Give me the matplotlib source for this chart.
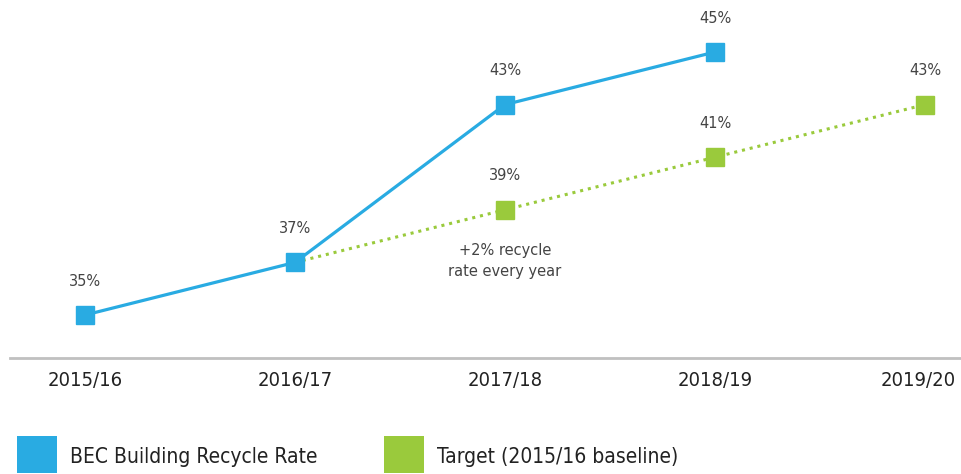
import numpy as np
import matplotlib.pyplot as plt
from matplotlib.patches import Rectangle
from matplotlib.transforms import ScaledTranslation

years = ['2015/16', '2016/17', '2017/18', '2018/19', '2019/20']
actual = [35, 37, 43, 45]
target_years = [1, 2, 3, 4]
target = [37, 39, 41, 43]
legend_labels = ['BEC Building Recycle Rate', 'Target (2015/16 baseline)']

blue = '#29ABE2'
green = '#9ACA3C'

plt.rcParams['font.family'] = ['DejaVu Sans']

W, H = 961, 474
fig = plt.figure(figsize=(W / 100, H / 100), dpi=100)
ax = fig.add_axes([10/W, 116/H, 951/W, 358/H])

x_act = np.arange(len(actual))
ax.plot(target_years, target, color=green, linestyle=(0, (1, 1.6)), linewidth=2.2,
        marker='s', markersize=13, markevery=[1, 2, 3], zorder=2)
ax.plot(x_act, actual, color=blue, linewidth=2.3, marker='s', markersize=13, zorder=3)

# value labels above the markers
for xi, v in zip(x_act, actual):
    ax.annotate(f'{v}%', (xi, v), xytext=(0, 19), textcoords='offset points',
                ha='center', va='bottom', fontsize=10.5, color='#444444')
for xi, v in zip(target_years[1:], target[1:]):
    ax.annotate(f'{v}%', (xi, v), xytext=(0, 19), textcoords='offset points',
                ha='center', va='bottom', fontsize=10.5, color='#444444')

ax.annotate('+2% recycle\nrate every year', (2, 39), xytext=(0, -24), textcoords='offset points',
            ha='center', va='top', fontsize=10.5, color='#444444', linespacing=1.5)

ax.set_xlim(-75/210, 4 + 36/210)
ax.set_ylim(35 - 43/26.3, 35 + 315/26.3)
ax.set_xticks(range(len(years)))
ax.set_xticklabels(years, fontsize=14.5, color='#222222', fontstretch='condensed')
ax.tick_params(axis='x', length=0, pad=9)
# last label nudged left so it stays inside the figure
last = ax.get_xticklabels()[-1]
last.set_transform(last.get_transform() + ScaledTranslation(-0.07, 0, fig.dpi_scale_trans))
ax.set_yticks([])
for s in ['top', 'right', 'left']:
    ax.spines[s].set_visible(False)
ax.spines['bottom'].set_color('#C0C0C0')
ax.spines['bottom'].set_linewidth(2)
ax.patch.set_alpha(0)

# legend drawn by hand: big square swatches
for x0, col, lab in zip([17, 384], [blue, green], legend_labels):
    fig.add_artist(Rectangle((x0 / W, 1 / H), 40 / W, 37 / H, transform=fig.transFigure,
                             facecolor=col, edgecolor='none'))
    fig.text((x0 + 53) / W, 17 / H, lab, fontsize=15, fontstretch='condensed',
             color='#222222', ha='left', va='center')

fig.savefig('out.png', dpi=100)
